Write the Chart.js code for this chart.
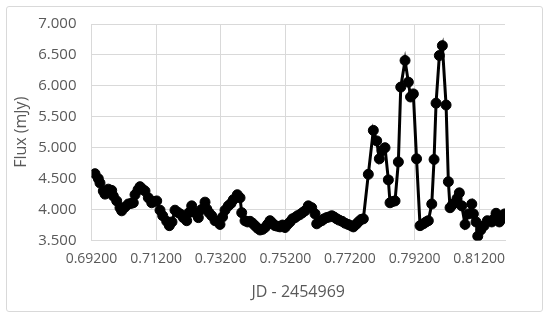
<!DOCTYPE html>
<html>
<head>
<meta charset="utf-8">
<script src="https://cdn.jsdelivr.net/npm/chart.js@4.4.0/dist/chart.umd.min.js"></script>
<style>
  body { margin: 0; background: #fff; }
  #wrap { position: relative; width: 550px; height: 318px; }
  #frame {
    position: absolute; left: 6px; top: 6px; width: 535px; height: 304px;
    border: 1px solid #d9d9d9; border-radius: 3px; pointer-events: none;
  }
  canvas { position: absolute; left: 0; top: 0; }
</style>
</head>
<body>
<div id="wrap">
  <canvas id="fluxChart" width="550" height="318"></canvas>
  <div id="frame"></div>
</div>
<script>
// light curve, JD - 2454969
const jd = [
  0.69308, 0.69411, 0.69463, 0.69565, 0.69618, 0.69720, 0.69825, 0.69875, 0.69980, 0.70082,
  0.70135, 0.70237, 0.70339, 0.70423, 0.70494, 0.70547, 0.70640, 0.70702, 0.70779, 0.70856,
  0.70959, 0.71064, 0.71135, 0.71219, 0.71321, 0.71404, 0.71528, 0.71609, 0.71692, 0.71785,
  0.71887, 0.71971, 0.72042, 0.72147, 0.72219, 0.72302, 0.72404, 0.72507, 0.72606, 0.72714,
  0.72767, 0.72838, 0.72921, 0.73024, 0.73178, 0.73256, 0.73333, 0.73435, 0.73519, 0.73590,
  0.73714, 0.73798, 0.73850, 0.73952, 0.74030, 0.74107, 0.74185, 0.74262, 0.74339, 0.74417,
  0.74494, 0.74572, 0.74649, 0.74726, 0.74804, 0.74881, 0.74959, 0.75036, 0.75113, 0.75191,
  0.75268, 0.75346, 0.75423, 0.75500, 0.75578, 0.75655, 0.75733, 0.75810, 0.75912, 0.76017,
  0.76120, 0.76172, 0.76243, 0.76327, 0.76398, 0.76482, 0.76553, 0.76637, 0.76708, 0.76792,
  0.76863, 0.76956, 0.77049, 0.77142, 0.77235, 0.77305, 0.77389, 0.77460, 0.77544, 0.77615,
  0.77769, 0.77924, 0.78029, 0.78110, 0.78193, 0.78286, 0.78389, 0.78441, 0.78519, 0.78596,
  0.78699, 0.78773, 0.78906, 0.79008, 0.79076, 0.79163, 0.79262, 0.79370, 0.79473, 0.79556,
  0.79627, 0.79733, 0.79804, 0.79866, 0.79968, 0.80061, 0.80176, 0.80247, 0.80299, 0.80377,
  0.80454, 0.80516, 0.80587, 0.80662, 0.80764, 0.80867, 0.80972, 0.81021, 0.81104, 0.81157,
  0.81250, 0.81352, 0.81454, 0.81590, 0.81661, 0.81723, 0.81825, 0.81930, 0.81990
];
const flux = [
  4.58, 4.50, 4.43, 4.30, 4.25, 4.33, 4.31, 4.22, 4.14, 4.03,
  3.98, 4.04, 4.09, 4.10, 4.11, 4.24, 4.32, 4.37, 4.33, 4.30,
  4.19, 4.11, 4.13, 4.14, 3.99, 3.90, 3.81, 3.74, 3.80, 3.99,
  3.95, 3.92, 3.87, 3.82, 3.95, 4.06, 3.95, 3.87, 4.00, 4.12,
  4.01, 3.95, 3.90, 3.82, 3.76, 3.88, 3.99, 4.06, 4.10, 4.16,
  4.24, 4.19, 3.95, 3.82, 3.80, 3.81, 3.78, 3.74, 3.70, 3.67,
  3.68, 3.71, 3.76, 3.82, 3.78, 3.74, 3.73, 3.72, 3.75, 3.71,
  3.76, 3.80, 3.85, 3.87, 3.90, 3.92, 3.95, 3.98, 4.06, 4.03,
  3.93, 3.77, 3.80, 3.82, 3.85, 3.87, 3.88, 3.90, 3.88, 3.85,
  3.83, 3.81, 3.78, 3.76, 3.74, 3.72, 3.76, 3.80, 3.84, 3.85,
  4.57, 5.28, 5.11, 4.82, 4.95, 5.00, 4.48, 4.11, 4.13, 4.14,
  4.77, 5.98, 6.41, 6.06, 5.82, 5.87, 4.82, 3.74, 3.77, 3.80,
  3.82, 4.09, 4.81, 5.72, 6.49, 6.65, 5.69, 4.45, 4.03, 4.08,
  4.11, 4.18, 4.27, 4.06, 3.76, 3.93, 4.09, 3.93, 3.80, 3.57,
  3.67, 3.74, 3.82, 3.80, 3.85, 3.94, 3.80, 3.86, 3.93
];
const xTicks = [0.692, 0.712, 0.732, 0.752, 0.772, 0.792, 0.812];
const yTicks = [3.5, 4.0, 4.5, 5.0, 5.5, 6.0, 6.5, 7.0];

const textColor = '#595959';
const gridColor = '#d9d9d9';

const points = jd.map((x, i) => ({ x: x, y: flux[i] }));

const ctx = document.getElementById('fluxChart').getContext('2d');
const fluxChart = new Chart(ctx, {
  type: 'scatter',
  data: {
    datasets: [{
      label: 'Flux',
      data: points,
      showLine: true,
      borderColor: '#000',
      backgroundColor: '#000',
      borderWidth: 3,
      pointRadius: 5,
      pointBorderWidth: 1,
      tension: 0
    }]
  },
  options: {
    responsive: false,
    animation: false,
    devicePixelRatio: 1,
    layout: { padding: { top: 18, right: 45, bottom: 0, left: 0 } },
    plugins: { legend: { display: false }, tooltip: { enabled: false } },
    scales: {
      x: {
        type: 'linear',
        min: 0.692,
        max: 0.820,
        afterBuildTicks: scale => { scale.ticks = xTicks.map(v => ({ value: v })); },
        afterFit: scale => { scale.height = 77.5; },
        ticks: {
          color: textColor,
          font: { family: 'Open Sans', size: 14 },
          padding: 10,
          maxRotation: 0,
          callback: v => Number(v).toFixed(5)
        },
        grid: { color: gridColor, drawTicks: false },
        border: { color: gridColor },
        title: {
          display: true,
          text: 'JD - 2454969',
          color: textColor,
          font: { family: 'Open Sans', size: 16 },
          padding: { top: 0, bottom: 16 }
        }
      },
      y: {
        min: 3.5,
        max: 7.0,
        afterBuildTicks: scale => { scale.ticks = yTicks.map(v => ({ value: v })); },
        afterFit: scale => { scale.width = 91.5; },
        ticks: {
          color: textColor,
          font: { family: 'Open Sans', size: 15 },
          padding: 15,
          callback: v => Number(v).toFixed(3)
        },
        grid: { color: gridColor, drawTicks: false },
        border: { color: gridColor },
        title: {
          display: true,
          text: 'Flux (mJy)',
          color: textColor,
          font: { family: 'Open Sans', size: 16 },
          padding: { top: 12, bottom: 0 }
        }
      }
    }
  }
});
</script>
</body>
</html>
